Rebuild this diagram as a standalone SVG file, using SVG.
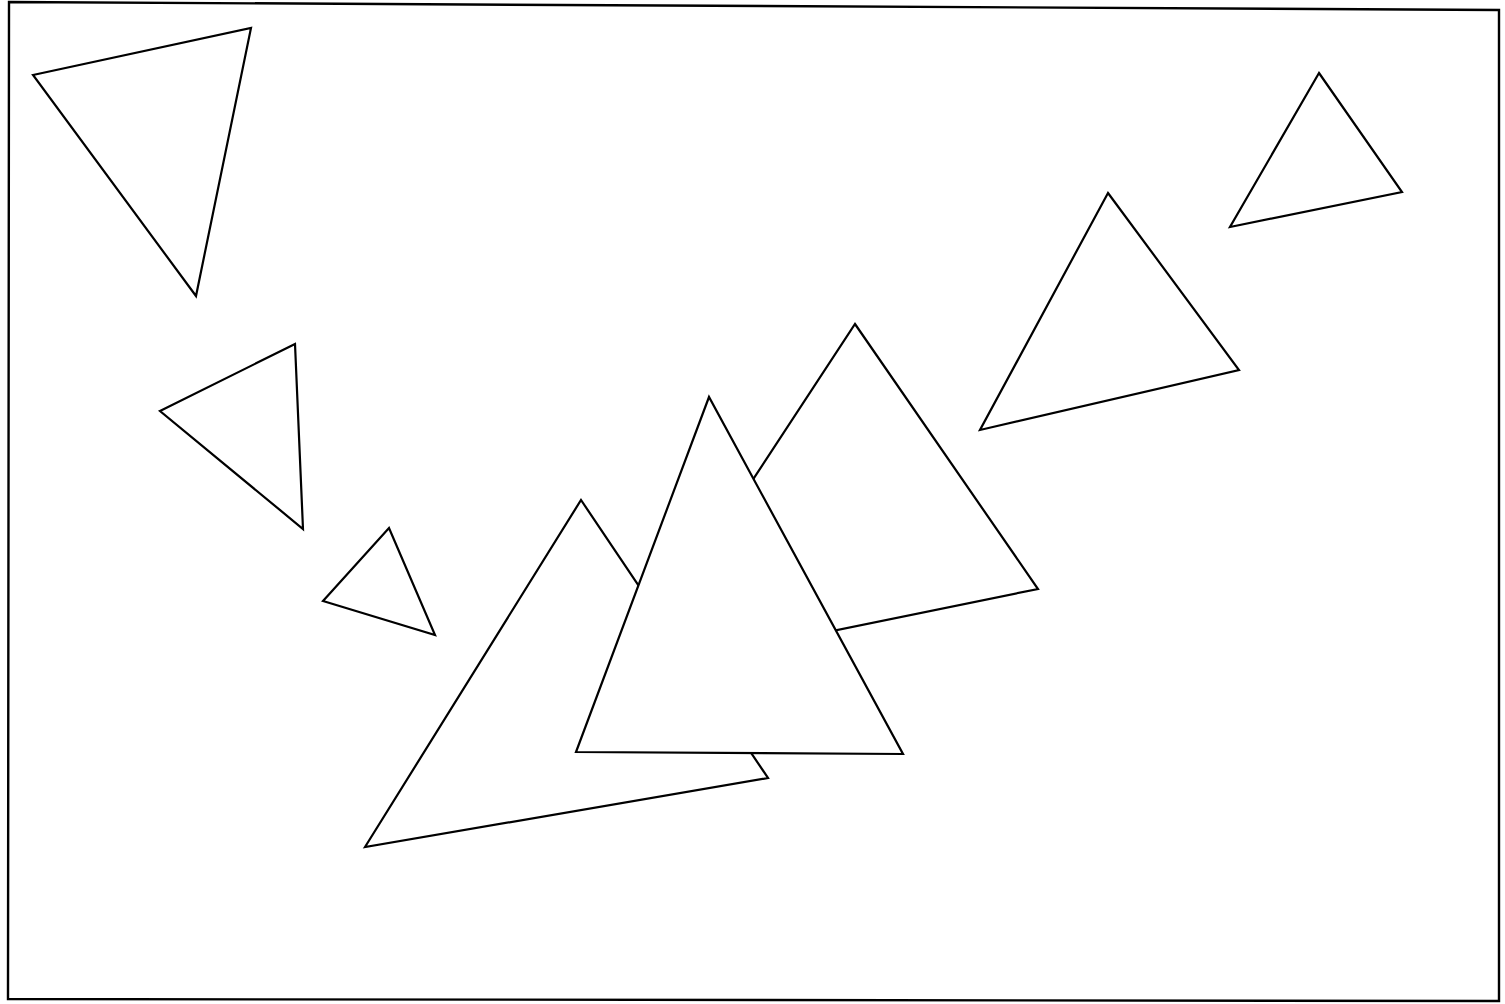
<svg xmlns="http://www.w3.org/2000/svg" width="1505" height="1004" viewBox="0 0 1505 1004">
<style>
.t{fill:#fff;stroke:#000;stroke-width:2.2;stroke-linejoin:miter}
.b{fill:none;stroke:#000;stroke-width:2.4}
</style>
<rect width="1505" height="1004" fill="#fff"/>
<polygon class="b" points="9,2 1499,10 1499,1001 8,999"/>
<g id="t1"><polygon class="t" points="33,75 251,28 196,296"/></g>
<g id="t2"><polygon class="t" points="160,411 295,344 303,529"/></g>
<g id="t3"><polygon class="t" points="323,601 389,528 435,635"/></g>
<g id="t4"><polygon class="t" points="365,847 581,500 768,778"/></g>
<g id="t5"><polygon class="t" points="855,324 1038,589 626,673"/></g>
<g id="t6"><polygon class="t" points="709,397 576,752 903,754"/></g>
<g id="t7"><polygon class="t" points="1108,193 1239,370 980,430"/></g>
<g id="t8"><polygon class="t" points="1319,73 1402,192 1230,227"/></g>
</svg>
